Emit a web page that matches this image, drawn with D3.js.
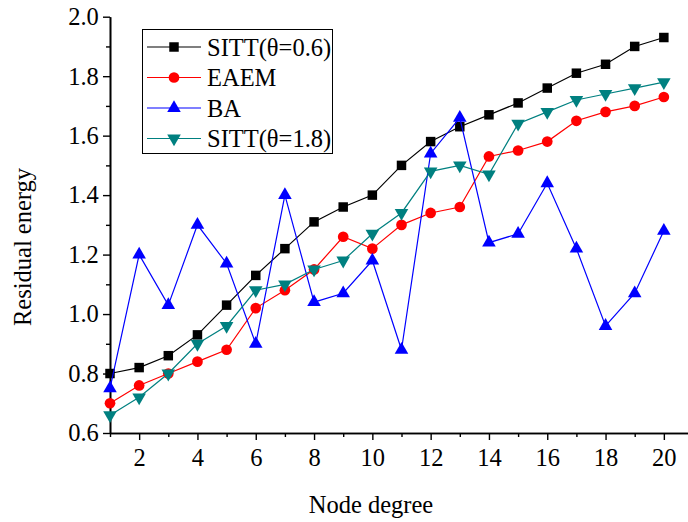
<!DOCTYPE html>
<html>
<head>
	<script src="https://d3js.org/d3.v7.min.js"></script>
	<style>
		body { margin: 0; background: #fff; }
		text { font-family: "Liberation Serif", "Times New Roman", serif; fill: #000; }
	</style>
</head>
<body>
	<div class="chart"></div>
	<script>
		// data
		var degrees = d3.range(1, 21);
		var sitt06 = [0.80,0.82,0.86,0.93,1.03,1.13,1.22,1.31,1.36,1.40,1.50,1.58,1.63,1.67,1.71,1.76,1.81,1.84,1.90,1.93];
		var eaem   = [0.70,0.76,0.80,0.84,0.88,1.02,1.08,1.15,1.26,1.22,1.30,1.34,1.36,1.53,1.55,1.58,1.65,1.68,1.70,1.73];
		var ba     = [0.75,1.20,1.03,1.30,1.17,0.90,1.40,1.04,1.07,1.18,0.88,1.54,1.66,1.24,1.27,1.44,1.22,0.96,1.07,1.28];
		var sitt18 = [0.66,0.72,0.80,0.90,0.96,1.08,1.10,1.15,1.18,1.27,1.34,1.48,1.50,1.47,1.64,1.68,1.72,1.74,1.76,1.78];
		var seriesNames = ["SITT(θ=0.6)", "EAEM", "BA", "SITT(θ=1.8)"];
		var xTicks = [2,4,6,8,10,12,14,16,18,20];
		var yTicks = [0.6,0.8,1.0,1.2,1.4,1.6,1.8,2.0];

		var w = 688, h = 522;
		var fs = 24.5;
		var svg = d3.select(".chart").append("svg")
			.attr("width", w)
			.attr("height", h);

		var x = d3.scaleLinear().domain([1, 21]).range([110, 693]);
		var y = d3.scaleLinear().domain([0.6, 2.0]).range([433, 16.7]);

		var series = [
			{name: seriesNames[0], values: sitt06, color: "#000000", sym: d3.symbolSquare, size: 90, rot: 0},
			{name: seriesNames[1], values: eaem,   color: "#ff0000", sym: d3.symbolCircle, size: 90, rot: 0},
			{name: seriesNames[2], values: ba,     color: "#0000ff", sym: d3.symbolTriangle, size: 80, rot: 0},
			{name: seriesNames[3], values: sitt18, color: "#008080", sym: d3.symbolTriangle, size: 80, rot: 180}
		];

		// axes
		var xAxis = svg.append("g")
			.attr("transform", "translate(0," + y(0.6) + ")")
			.call(d3.axisBottom(x).tickValues(xTicks).tickFormat(d3.format("d")).tickSize(7).tickSizeOuter(0));
		svg.append("g")
			.attr("transform", "translate(0," + y(0.6) + ")")
			.call(d3.axisBottom(x).tickValues(d3.range(1, 21, 2)).tickFormat("").tickSize(4).tickSizeOuter(0));
		var yAxis = svg.append("g")
			.attr("transform", "translate(" + x(1) + ",0)")
			.call(d3.axisLeft(y).tickValues(yTicks).tickFormat(d3.format(".1f")).tickSize(7).tickSizeOuter(0));
		svg.append("g")
			.attr("transform", "translate(" + x(1) + ",0)")
			.call(d3.axisLeft(y).tickValues([0.7,0.9,1.1,1.3,1.5,1.7,1.9]).tickFormat("").tickSize(4).tickSizeOuter(0));

		svg.selectAll(".domain").attr("stroke", "#000").attr("stroke-width", 1.6);
		svg.selectAll(".tick line").attr("stroke", "#000").attr("stroke-width", 1.4);
		xAxis.selectAll("text").attr("font-size", fs).attr("dy", "0.95em");
		yAxis.selectAll("text").attr("font-size", fs).attr("dx", "-0.05em");

		svg.append("text")
			.attr("x", 371).attr("y", 513)
			.attr("text-anchor", "middle")
			.attr("font-size", fs)
			.text("Node degree");
		svg.append("text")
			.attr("transform", "translate(31,247) rotate(-90)")
			.attr("text-anchor", "middle")
			.attr("font-size", fs)
			.text("Residual energy");

		// lines and markers
		var line = d3.line()
			.x(function(d, i) { return x(degrees[i]); })
			.y(function(d) { return y(d); });

		series.forEach(function(s) {
			svg.append("path")
				.datum(s.values)
				.attr("d", line)
				.attr("fill", "none")
				.attr("stroke", s.color)
				.attr("stroke-width", 1.2);
			svg.append("g").selectAll("path")
				.data(s.values)
				.enter()
				.append("path")
				.attr("d", d3.symbol().type(s.sym).size(s.size))
				.attr("transform", function(d, i) {
					return "translate(" + x(degrees[i]) + "," + y(d) + ") rotate(" + s.rot + ")";
				})
				.attr("fill", s.color);
		});

		// legend
		var lg = svg.append("g");
		lg.append("rect")
			.attr("x", 142.5).attr("y", 29.5)
			.attr("width", 190).attr("height", 124)
			.attr("fill", "#fff")
			.attr("stroke", "#000")
			.attr("stroke-width", 1);
		series.forEach(function(s, i) {
			var ly = 47 + i * 30.5;
			lg.append("line")
				.attr("x1", 147).attr("x2", 201)
				.attr("y1", ly).attr("y2", ly)
				.attr("stroke", s.color)
				.attr("stroke-width", 1.2);
			lg.append("path")
				.attr("d", d3.symbol().type(s.sym).size(s.size))
				.attr("transform", "translate(174," + ly + ") rotate(" + s.rot + ")")
				.attr("fill", s.color);
			lg.append("text")
				.attr("x", 207).attr("y", ly)
				.attr("dy", "0.35em")
				.attr("font-size", fs)
				.text(s.name);
		});
	</script>
</body>
</html>
